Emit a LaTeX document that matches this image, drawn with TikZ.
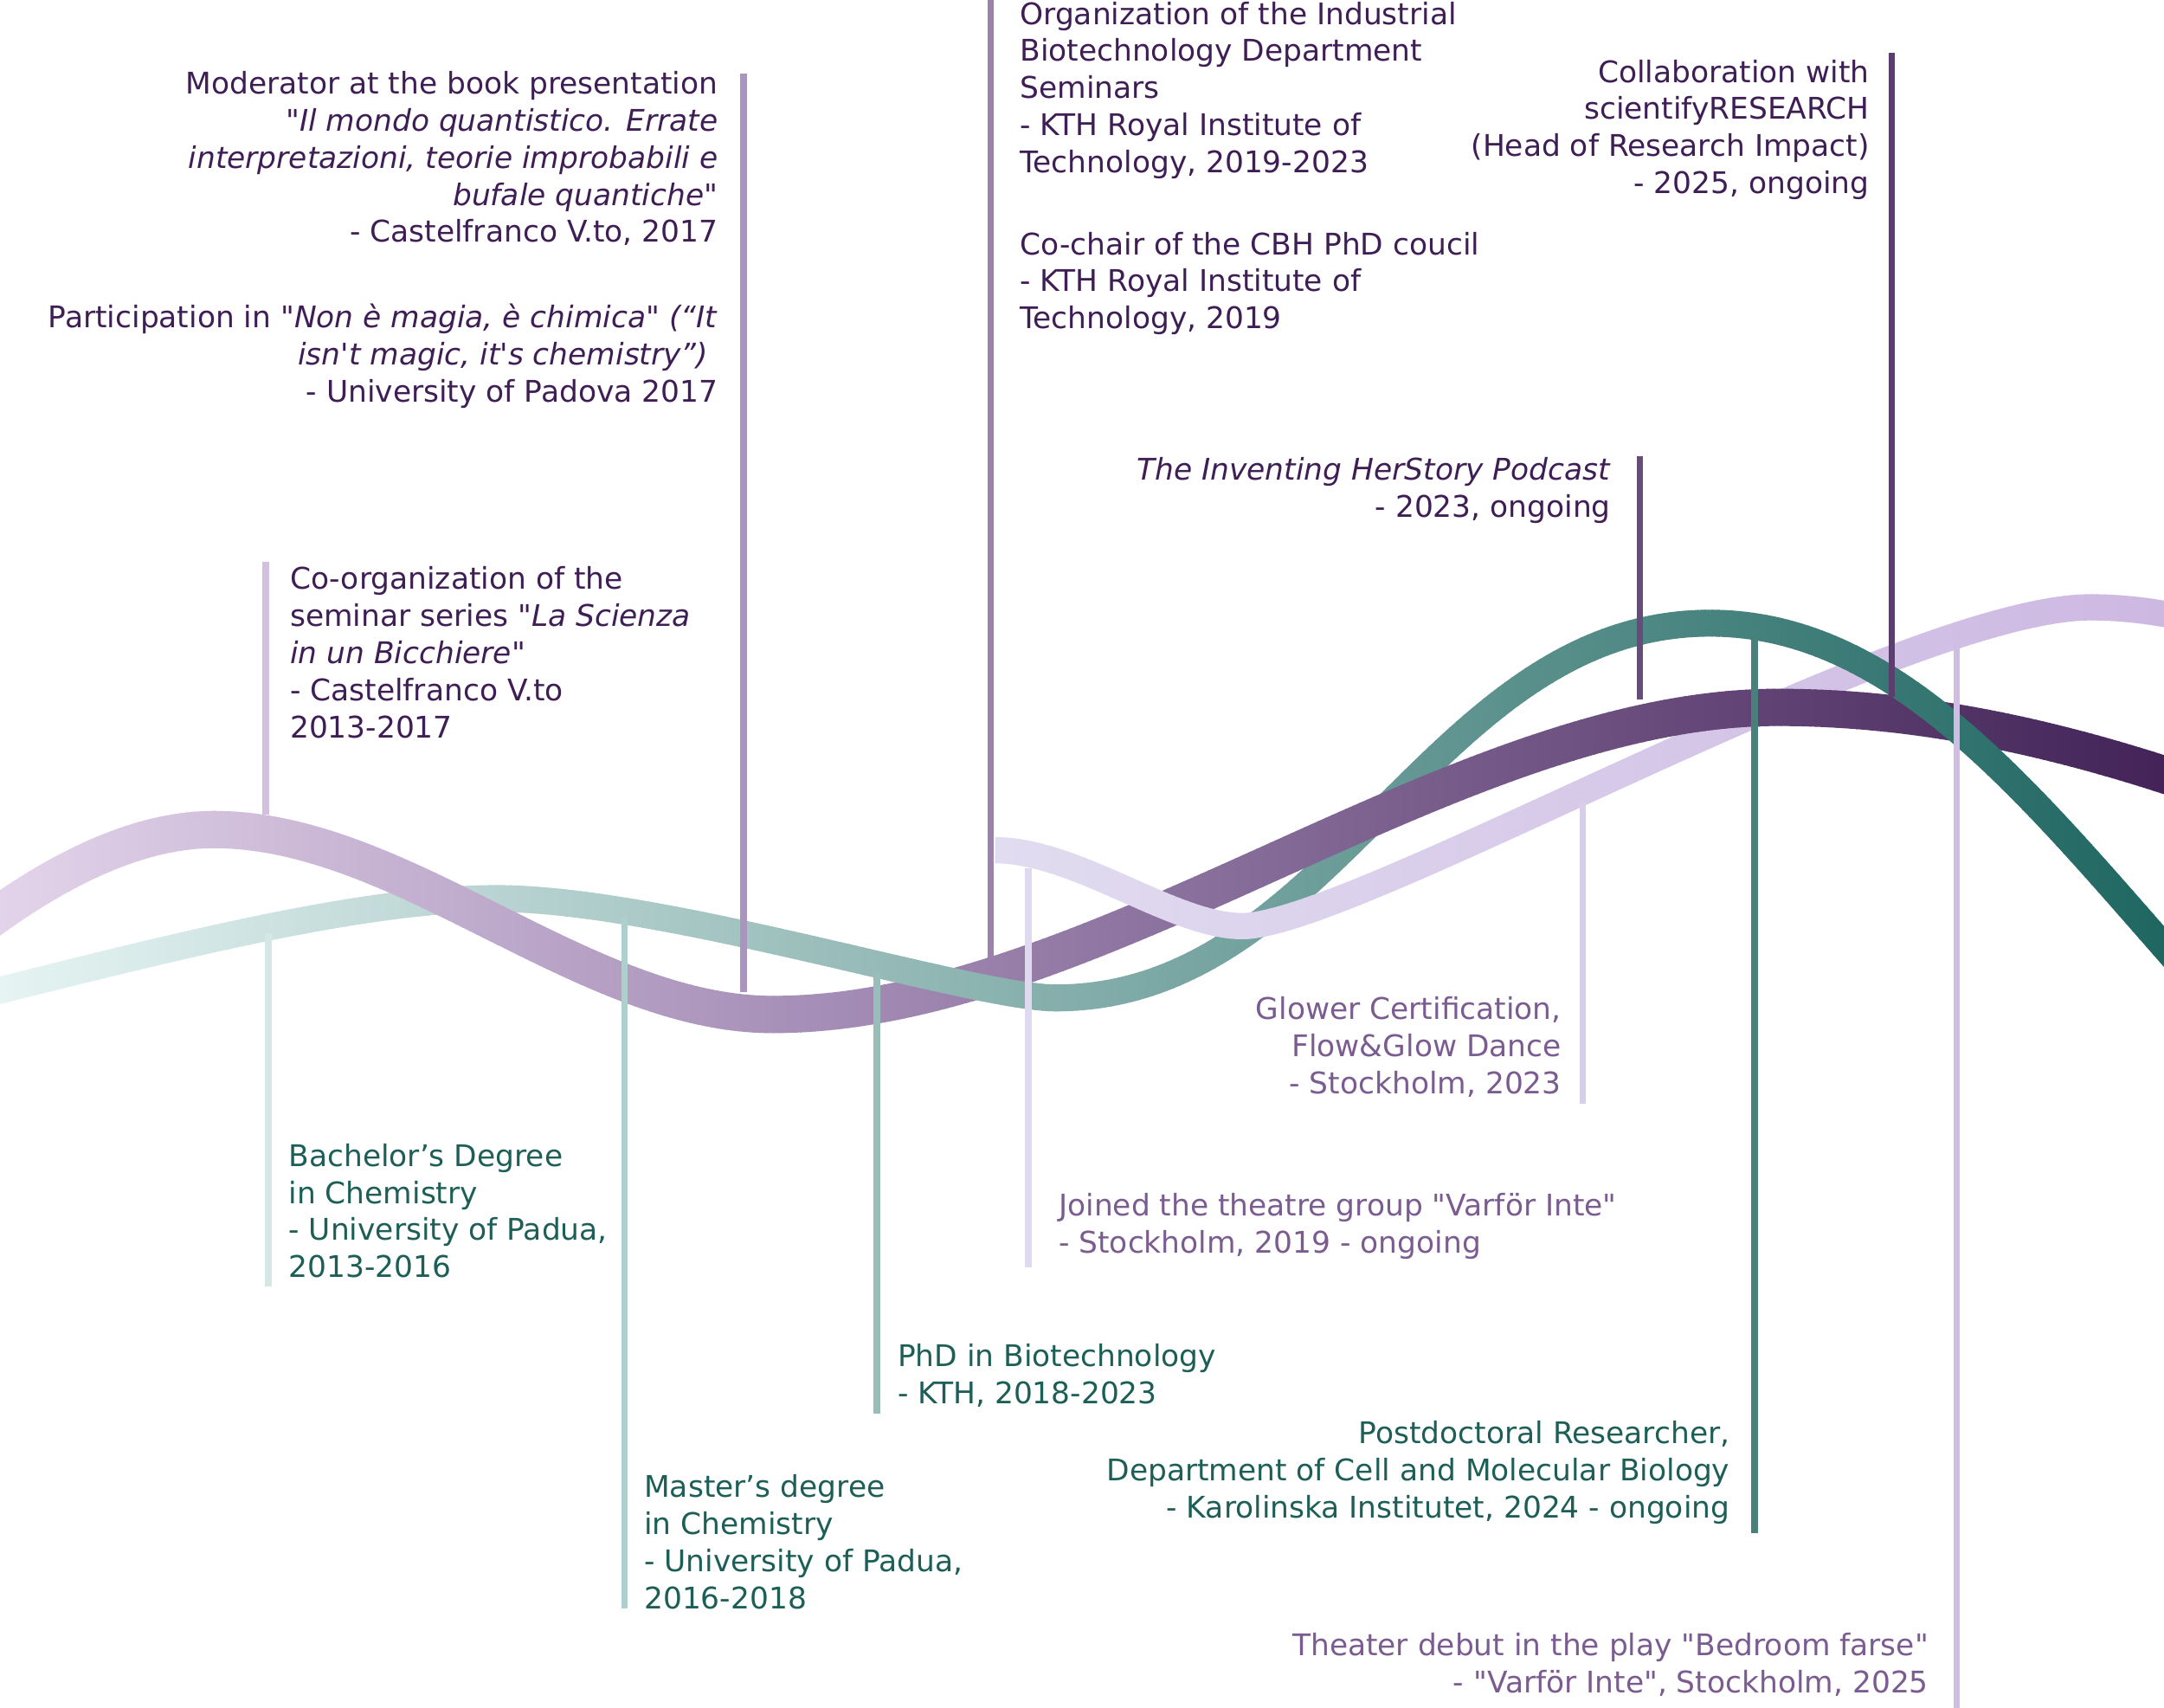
\documentclass[tikz,border=0pt]{standalone}
\usepackage{fontspec}
\setmainfont{DejaVu Sans}[Ligatures=TeXOff]
\definecolor{pA}{HTML}{E3D3EA}
\definecolor{pB}{HTML}{A48DB6}
\definecolor{pC}{HTML}{432358}
\definecolor{tA}{HTML}{E6F4F3}
\definecolor{tC}{HTML}{1F6661}
\definecolor{lA}{HTML}{E1DCF0}
\definecolor{lC}{HTML}{CDB8E2}
\definecolor{txtP}{HTML}{3E1E54}
\definecolor{txtT}{HTML}{1D5E57}
\definecolor{txtL}{HTML}{7B5C90}
\newcommand\ribP{(-20,676) .. controls (40,630) and (100,601) .. (155,601)
  .. controls (292,601) and (423,735) .. (560,735)
  .. controls (794,735) and (1054,512.5) .. (1288,512.5)
  .. controls (1380,512.5) and (1480,530) .. (1600,572)}
\newcommand\ribT{(-30,725) .. controls (120,687.5) and (260,651) .. (360,651)
  .. controls (480,651) and (705,723) .. (765,723)
  .. controls (967,723) and (1037,451.5) .. (1239,451.5)
  .. controls (1380,451.5) and (1480,588) .. (1600,722)}
\newcommand\ribL{(721,616) .. controls (780,616) and (850,671) .. (900,671)
  .. controls (980,671) and (1380,440) .. (1515,440)
  .. controls (1545,440) and (1575,445) .. (1600,452)}
\newcommand\stripP[2]{%
  \pgfmathsetmacro\xm{(#1+#2)/2}%
  \pgfmathsetmacro\pp{\xm<600 ? \xm/6 : min(100,(\xm-600)/9.68)}%
  \ifdim\xm pt<600pt \colorlet{cc}{pB!\pp!pA}\else\colorlet{cc}{pC!\pp!pB}\fi
  \begin{scope}
    \clip (#1,-50) rectangle ({#2+0.8},1300);
    \draw[line width=27pt, cc] \ribP;
  \end{scope}}
\newcommand\stripT[2]{%
  \pgfmathsetmacro\xm{(#1+#2)/2}%
  \pgfmathsetmacro\pp{min(100,\xm/15.68)}%
  \colorlet{cc}{tC!\pp!tA}%
  \begin{scope}
    \clip (#1,-50) rectangle ({#2+0.8},1300);
    \draw[line width=19.5pt, cc] \ribT;
  \end{scope}}
\newcommand\stripL[2]{%
  \pgfmathsetmacro\xm{(#1+#2)/2}%
  \pgfmathsetmacro\pp{max(0,min(100,(\xm-721)/8.47))}%
  \colorlet{cc}{lC!\pp!lA}%
  \begin{scope}
    \clip (#1,-50) rectangle ({#2+0.8},1300);
    \draw[line width=19pt, cc] \ribL;
  \end{scope}}
% #1 = strip macro, #2 = first x, #3 = second x, #4 = last x
\newcommand\band[4]{\foreach \xa in {#2,#3,...,#4}{\pgfmathsetmacro\xb{\xa+5}#1{\xa}{\xb}}}
\tikzset{
  vline/.style={line width=4.8pt},
  lbl/.style={inner sep=0pt, align=left, anchor=base west, font=\fontsize{21.6}{26.9}\selectfont},
  lbr/.style={inner sep=0pt, align=right, anchor=base east, font=\fontsize{21.6}{26.9}\selectfont}
}
\begin{document}
\begin{tikzpicture}[x=1pt,y=-1pt]
\fill[white] (0,0) rectangle (1568,1236.84);
\useasboundingbox (0,0) rectangle (1568,1236.84);
% ribbons, layered per region (lower ribbon first)
\band\stripT{0}{5}{495}
\band\stripP{0}{5}{495}
\band\stripP{500}{505}{755}
\band\stripT{500}{505}{755}
\band\stripL{720}{725}{755}
\band\stripT{760}{765}{1095}
\band\stripP{760}{765}{1095}
\band\stripL{760}{765}{1095}
\band\stripL{1100}{1105}{1565}
\band\stripP{1100}{1105}{1565}
\band\stripT{1100}{1105}{1565}
% connector end points
\coordinate (l1a) at (538.9,53.3);   \coordinate (l1b) at (538.9,719);
\coordinate (l2a) at (717.9,-2);     \coordinate (l2b) at (717.9,694);
\coordinate (l3a) at (1370.7,38.5);  \coordinate (l3b) at (1370.7,505);
\coordinate (l4a) at (1188.2,330.5); \coordinate (l4b) at (1188.2,507);
\coordinate (l5a) at (192.6,407);    \coordinate (l5b) at (192.6,590);
\coordinate (l6a) at (194.5,676);    \coordinate (l6b) at (194.5,932);
\coordinate (l7a) at (452.6,664);    \coordinate (l7b) at (452.6,1165.5);
\coordinate (l8a) at (635.2,705);    \coordinate (l8b) at (635.2,1024);
\coordinate (l9a) at (745.2,629);    \coordinate (l9b) at (745.2,918.3);
\coordinate (l10a) at (1146.8,581);  \coordinate (l10b) at (1146.8,799.4);
\coordinate (l11a) at (1271.5,461);  \coordinate (l11b) at (1271.5,1111);
\coordinate (l12a) at (1417.8,463);  \coordinate (l12b) at (1417.8,1240);
\draw[vline, color={rgb,255:red,169;green,149;blue,189}] (l1a) -- (l1b);
\draw[vline, color={rgb,255:red,154;green,130;blue,173}] (l2a) -- (l2b);
\draw[vline, color={rgb,255:red,90;green,63;blue,110}] (l3a) -- (l3b);
\draw[vline, color={rgb,255:red,103;green,75;blue,123}] (l4a) -- (l4b);
\draw[vline, color={rgb,255:red,211;green,192;blue,223}] (l5a) -- (l5b);
\draw[vline, color={rgb,255:red,213;green,232;blue,230}] (l6a) -- (l6b);
\draw[vline, color={rgb,255:red,175;green,207;blue,205}] (l7a) -- (l7b);
\draw[vline, color={rgb,255:red,153;green,189;blue,185}] (l8a) -- (l8b);
\draw[vline, color={rgb,255:red,223;green,218;blue,239}] (l9a) -- (l9b);
\draw[vline, color={rgb,255:red,216;green,205;blue,234}] (l10a) -- (l10b);
\draw[vline, color={rgb,255:red,74;green,128;blue,123}] (l11a) -- (l11b);
\draw[vline, color={rgb,255:red,208;green,189;blue,227}] (l12a) -- (l12b);
% labels (anchored at the baseline of their last line)
\node[lbr, text=txtP] (t1a) at (520.3,175.6) {Moderator at the book presentation\\
\textit{"Il mondo quantistico. Errate}\\
\textit{interpretazioni, teorie improbabili e}\\
\textit{bufale quantiche"}\\
- Castelfranco V.to, 2017};
\node[lbr, text=txtP] (t1b) at (520.3,291.4) {Participation in \textit{"Non è magia, è chimica" (“It}\\
\textit{isn't magic, it's chemistry”)}\rule{6.9pt}{0pt}\\
- University of Padova 2017};
\node[lbl, text=txtP] (t2a) at (738.9,125.2) {Organization of the Industrial\\Biotechnology Department\\Seminars\\- KTH Royal Institute of\\Technology, 2019-2023};
\node[lbl, text=txtP] (t2b) at (738.9,238.2) {Co-chair of the CBH PhD coucil\\- KTH Royal Institute of\\Technology, 2019};
\node[lbr, text=txtP] (t3) at (1354.7,140.3) {Collaboration with\\scientifyRESEARCH\\(Head of Research Impact)\\- 2025, ongoing};
\node[lbr, text=txtP] (t4) at (1167.3,374.6) {\textit{The Inventing HerStory Podcast}\\- 2023, ongoing};
\node[lbl, text=txtP] (t5) at (210,534.6) {Co-organization of the\\seminar series \textit{"La Scienza}\\\textit{in un Bicchiere"}\\- Castelfranco V.to\\2013-2017};
\node[lbl, text=txtT] (t6) at (209,925.6) {Bachelor’s Degree\\in Chemistry\\- University of Padua,\\2013-2016};
\node[lbl, text=txtT] (t7) at (466.6,1165.6) {Master’s degree\\in Chemistry\\- University of Padua,\\2016-2018};
\node[lbl, text=txtT] (t8) at (650.2,1016.7) {PhD in Biotechnology\\- KTH, 2018-2023};
\node[lbl, text=txtL] (t9) at (767,908.1) {Joined the theatre group "Varför Inte"\\- Stockholm, 2019 - ongoing};
\node[lbr, text=txtL] (t10) at (1131.5,792.3) {Glower Certification,\\Flow\&Glow Dance\\- Stockholm, 2023};
\node[lbr, text=txtT] (t11) at (1253.5,1099.8) {Postdoctoral Researcher,\\Department of Cell and Molecular Biology\\- Karolinska Institutet, 2024 - ongoing};
\node[lbr, text=txtL] (t12) at (1397.5,1226.7) {Theater debut in the play "Bedroom farse"\\- "Varför Inte", Stockholm, 2025};
\end{tikzpicture}
\end{document}
